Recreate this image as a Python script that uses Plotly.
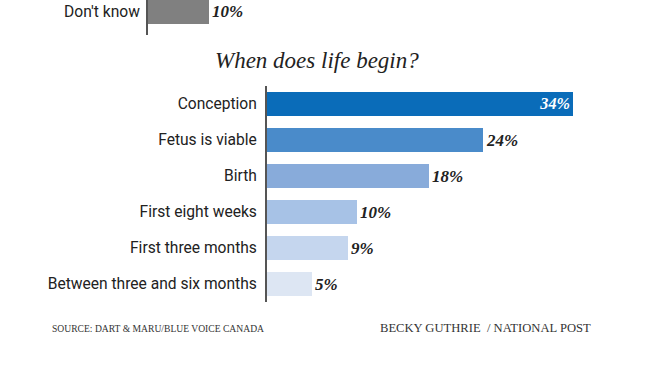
import plotly.graph_objects as go

W, H = 658, 370

categories = ["Conception", "Fetus is viable", "Birth", "First eight weeks",
              "First three months", "Between three and six months"]
values = [34, 24, 18, 10, 9, 5]
bar_colors = ["#0a6cb9", "#4a8bca", "#88abda", "#a7c2e6", "#c5d6ee", "#dde6f3"]
text_positions = ["inside", "outside", "outside", "outside", "outside", "outside"]

top_categories = ["Don't know"]
top_values = [10]

title_text = "When does life begin?"
source_text = "SOURCE: DART & MARU/BLUE VOICE CANADA"
credit_text = "BECKY GUTHRIE  / NATIONAL POST"

def px(x):
    return x / W

def py(y):
    return 1 - y / H

label_font = dict(family="Roboto, Arial, sans-serif", size=15.6, color="#222222")
value_font = "Liberation Serif, Georgia, serif"

fig = go.Figure()

fig.add_trace(go.Bar(
    x=values, y=categories, orientation="h",
    marker=dict(color=bar_colors, line=dict(width=0)),
    texttemplate="<i><b>%{x}%</b></i>",
    textposition=text_positions,
    insidetextanchor="end",
    insidetextfont=dict(family=value_font, size=17, color="white"),
    outsidetextfont=dict(family=value_font, size=17, color="#222222"),
    cliponaxis=False,
    xaxis="x", yaxis="y",
    hoverinfo="skip",
))

fig.add_trace(go.Bar(
    x=top_values, y=top_categories, orientation="h",
    marker=dict(color="#808080", line=dict(width=0)),
    width=0.67,
    texttemplate="<i><b>%{x}%</b></i>",
    textposition="outside",
    outsidetextfont=dict(family=value_font, size=17, color="#222222"),
    cliponaxis=False,
    xaxis="x2", yaxis="y2",
    hoverinfo="skip",
))

fig.update_layout(
    width=W, height=H,
    margin=dict(l=0, r=0, t=0, b=0),
    paper_bgcolor="white", plot_bgcolor="white",
    showlegend=False,
    bargap=0.33,
    xaxis=dict(domain=[px(267), px(654)], range=[0, 43], visible=False, fixedrange=True),
    yaxis=dict(domain=[py(302), py(86)], anchor="x", autorange="reversed",
               showline=True, linecolor="#555555", linewidth=2,
               ticks="outside", ticklen=5, tickcolor="white",
               tickfont=label_font, showgrid=False),
    xaxis2=dict(domain=[px(148), px(270)], range=[0, 20], visible=False, anchor="y2"),
    yaxis2=dict(domain=[py(35), 1], anchor="x2", range=[-0.64, 0.33],
                showline=True, linecolor="#555555", linewidth=2,
                ticks="outside", ticklen=3, tickcolor="white",
                tickfont=label_font, showgrid=False),
    annotations=[
        dict(text="<i>" + title_text + "</i>", x=px(317), y=py(60), xref="paper", yref="paper",
             showarrow=False, xanchor="center", yanchor="middle",
             font=dict(family="Liberation Serif, Georgia, serif", size=23, color="#222222")),
        dict(text=source_text, x=px(50), y=py(328), xref="paper", yref="paper",
             showarrow=False, xanchor="left", yanchor="middle",
             font=dict(family="Liberation Serif, serif", size=9.6, color="#333333")),
        dict(text=credit_text, x=px(378), y=py(328), xref="paper", yref="paper",
             showarrow=False, xanchor="left", yanchor="middle",
             font=dict(family="Liberation Serif, serif", size=12.6, color="#333333")),
    ],
)

fig.write_html("out.html", config={"displayModeBar": False},
               post_script="document.body.style.margin='0';document.body.style.overflow='hidden';")
